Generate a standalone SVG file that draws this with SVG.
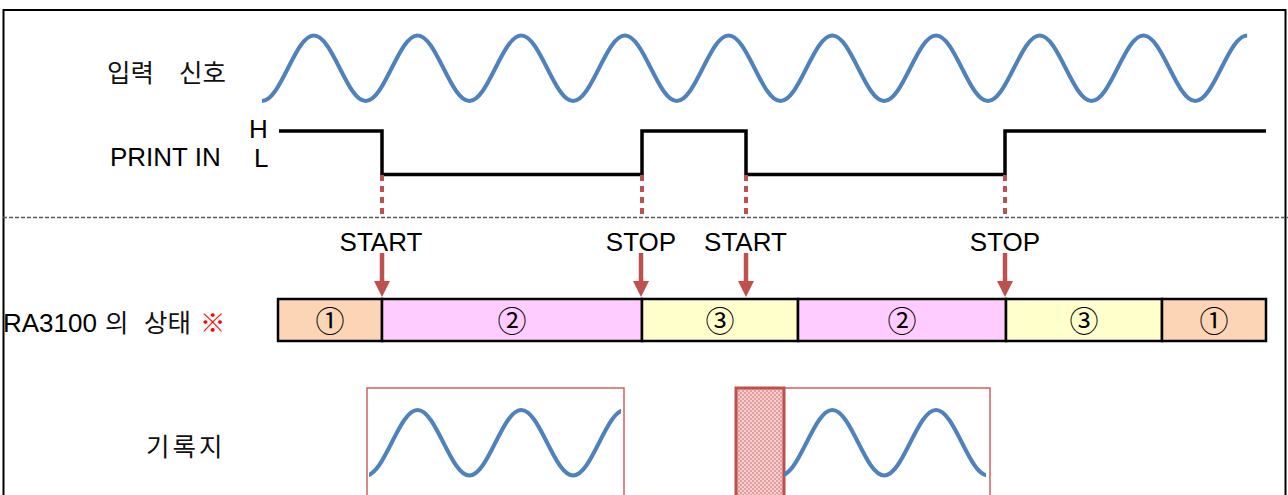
<svg xmlns="http://www.w3.org/2000/svg" xmlns:xlink="http://www.w3.org/1999/xlink" width="1288" height="495" viewBox="0 0 1288 495">
<style>
.lat{font-family:"Liberation Sans",Arial,sans-serif;font-size:26px;fill:#000}
.kr{font-family:"Noto Sans CJK KR",sans-serif;font-size:25.5px;fill:#111}
.num{font-family:"Noto Sans CJK JP",sans-serif;font-size:29px;fill:#000;text-anchor:middle}
.wave{fill:none;stroke:#4f81bd;stroke-width:4}
.dot{stroke:#c0504d;stroke-width:4;stroke-dasharray:6 5;fill:none}
.arr{stroke:#c0504d;stroke-width:4.5;fill:none;marker-end:url(#ah)}
.cell{stroke:#000;stroke-width:2.5}
.paper{fill:none;stroke:#d0605e;stroke-width:1.5}
</style>
<defs>
<marker id="ah" markerUnits="userSpaceOnUse" markerWidth="16" markerHeight="16" viewBox="0 0 16 16" refX="8" refY="8" orient="auto">
<path d="M0,0 L16,8 L0,16 Z" fill="#c0504d"/>
</marker>
<pattern id="chk" width="4" height="4" patternUnits="userSpaceOnUse">
<rect width="4" height="4" fill="#f6d0d0"/>
<rect width="2" height="2" fill="#e49c9c"/>
<rect x="2" y="2" width="2" height="2" fill="#e49c9c"/>
</pattern>
<path id="wave" class="wave" d="M262,101 C280.84,101 295.01,35.5 313.85,35.5 S346.86,101 365.7,101 S398.71,35.5 417.55,35.5 S450.56,101 469.4,101 S502.41,35.5 521.25,35.5 S554.26,101 573.1,101 S606.11,35.5 624.95,35.5 S657.96,101 676.8,101 S709.81,35.5 728.65,35.5 S761.66,101 780.5,101 S813.51,35.5 832.35,35.5 S865.36,101 884.2,101 S917.21,35.5 936.05,35.5 S969.06,101 987.9,101 S1020.91,35.5 1039.75,35.5 S1072.76,101 1091.6,101 S1124.61,35.5 1143.45,35.5 S1176.46,101 1195.3,101 S1228.31,35.5 1247.15,35.5"/>
<clipPath id="c1"><rect x="369" y="380" width="252" height="120"/></clipPath>
<clipPath id="c2"><rect x="784" y="380" width="202" height="120"/></clipPath>
</defs>

<rect id="frame" x="3.5" y="10" width="1282" height="500" fill="#fff" stroke="#000" stroke-width="2"/>

<g id="input-signal">
<text class="kr" x="107" y="82">입력 <tspan x="179">신호</tspan></text>
<use xlink:href="#wave"/>
</g>

<g id="print-in">
<text class="lat" x="110" y="166">PRINT IN</text>
<text class="lat" x="249" y="138">H</text>
<text class="lat" x="254" y="167">L</text>
<path d="M279,131 H382 V174.5 H642 V131 H746 V174.5 H1005 V131 H1266" fill="none" stroke="#000" stroke-width="3.5"/>
</g>

<line id="separator" x1="3" y1="217.5" x2="1288" y2="217.5" stroke="#595959" stroke-width="1.3" stroke-dasharray="4 2"/>

<g id="connectors">
<line class="dot" x1="382" y1="175" x2="382" y2="217"/>
<line class="dot" x1="642" y1="175" x2="642" y2="217"/>
<line class="dot" x1="746" y1="175" x2="746" y2="217"/>
<line class="dot" x1="1005" y1="175" x2="1005" y2="217"/>
<line class="arr" x1="382" y1="253" x2="382" y2="289"/>
<line class="arr" x1="641" y1="253" x2="641" y2="289"/>
<line class="arr" x1="746" y1="253" x2="746" y2="289"/>
<line class="arr" x1="1005" y1="253" x2="1005" y2="289"/>
</g>

<g id="events">
<text class="lat" x="381" y="251" text-anchor="middle">START</text>
<text class="lat" x="641" y="251" text-anchor="middle">STOP</text>
<text class="lat" x="745.5" y="251" text-anchor="middle">START</text>
<text class="lat" x="1005" y="251" text-anchor="middle">STOP</text>
</g>

<g id="status">
<text x="3" y="332"><tspan class="lat">RA3100</tspan><tspan class="kr" x="105">의</tspan><tspan class="kr" x="144">상태</tspan><tspan class="kr" x="200" style="fill:#ff0000">※</tspan></text>
<rect class="cell" x="278" y="299" width="104" height="42" fill="#fbd5b5"/>
<rect class="cell" x="382" y="299" width="260" height="42" fill="#ffccff"/>
<rect class="cell" x="642" y="299" width="156" height="42" fill="#ffffcc"/>
<rect class="cell" x="798" y="299" width="208" height="42" fill="#ffccff"/>
<rect class="cell" x="1006" y="299" width="156" height="42" fill="#ffffcc"/>
<rect class="cell" x="1162" y="299" width="104" height="42" fill="#fbd5b5"/>
<text class="num" x="330" y="332">①</text>
<text class="num" x="512" y="332">②</text>
<text class="num" x="720" y="332">③</text>
<text class="num" x="902" y="332">②</text>
<text class="num" x="1084" y="332">③</text>
<text class="num" x="1214" y="332">①</text>
</g>

<g id="paper">
<text class="kr" x="146" y="456" letter-spacing="3">기록지</text>
<rect class="paper" x="367" y="388" width="257" height="120"/>
<g clip-path="url(#c1)"><use xlink:href="#wave" transform="translate(0,374.5)"/></g>
<rect class="paper" x="736" y="388" width="254" height="120"/>
<rect x="736" y="388" width="48" height="120" fill="url(#chk)" stroke="#c0504d" stroke-width="3"/>
<g clip-path="url(#c2)"><use xlink:href="#wave" transform="translate(0,374.5)"/></g>
</g>
</svg>
